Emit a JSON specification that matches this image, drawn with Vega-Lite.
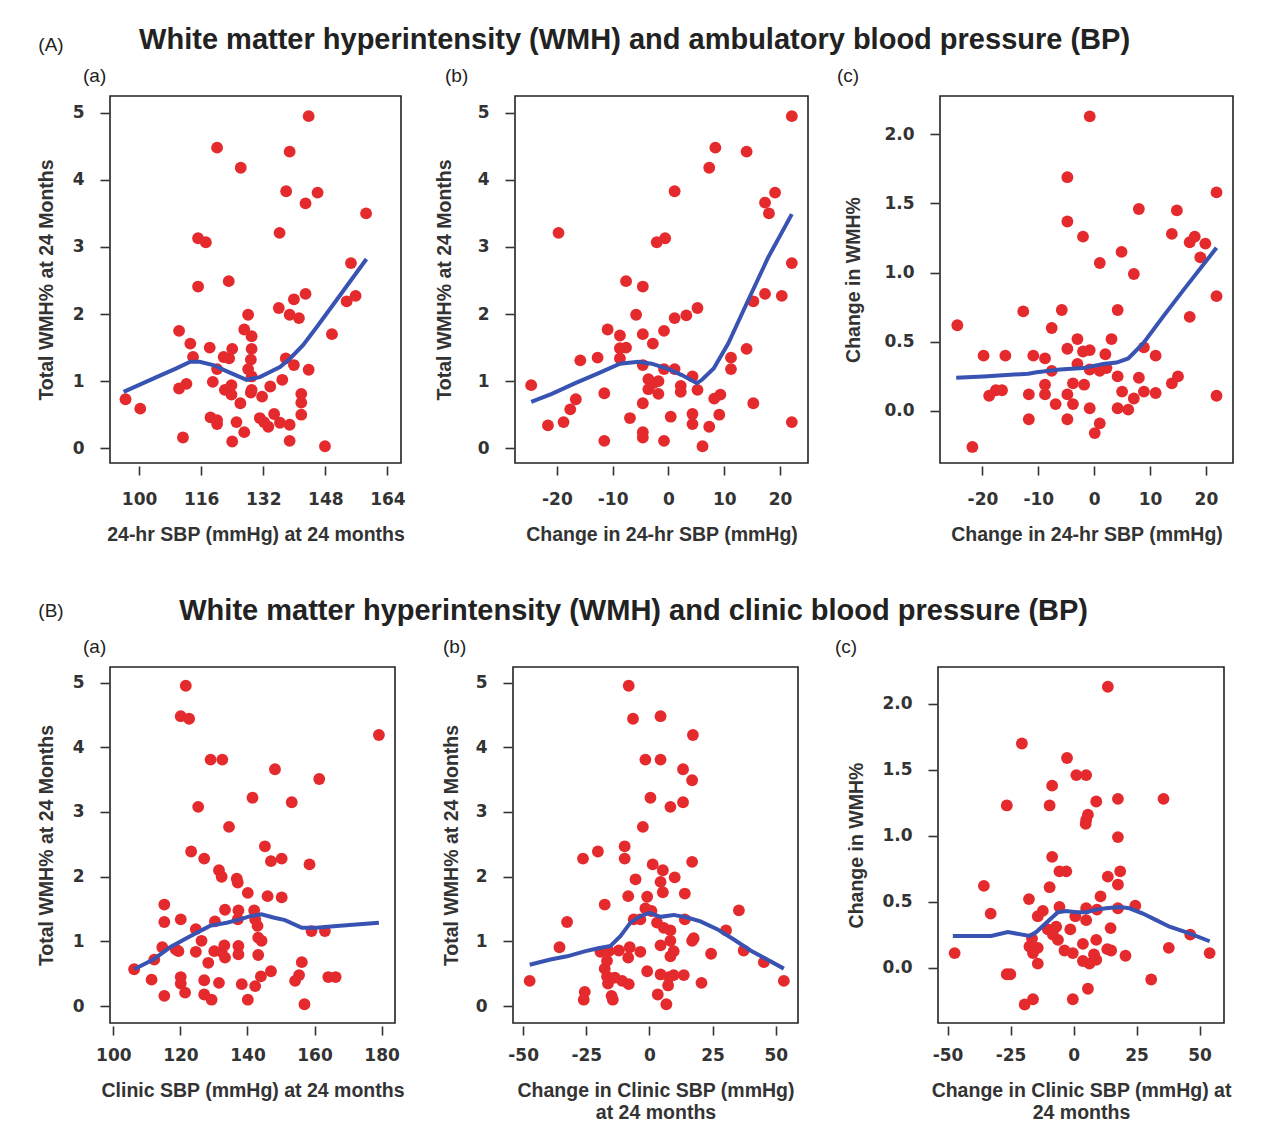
{
"$schema": "https://vega.github.io/schema/vega-lite/v6.json",
"padding": {"left": 35, "top": 26, "right": 5, "bottom": 5},
"background": "white",
"spacing": 52,
"config": {
 "view": {"stroke": "#222", "strokeWidth": 1.6},
 "axis": {"grid": false, "domain": false, "tickColor": "#333", "tickWidth": 1.6, "tickSize": 9, "labelFont": "DejaVu Sans", "labelFontWeight": "bold", "labelFontSize": 17, "labelColor": "#333", "titleFont": "Liberation Sans", "titleFontWeight": "bold", "titleFontSize": 19.5, "titleColor": "#333", "titleLineHeight": 22},
 "axisX": {"offset": 3, "labelPadding": 16, "titlePadding": 18, "labelAngle": 0, "labelFlush": false},
 "axisY": {"offset": 1, "labelPadding": 16, "titlePadding": 16, "labelFlush": false},
 "title": {"font": "Liberation Sans", "fontSize": 19, "fontWeight": "normal", "anchor": "start", "frame": "group", "baseline": "bottom", "offset": 10, "color": "#222"}
},
"datasets": {
 "aa": [{"x":143.7,"y":4.95},{"x":120.1,"y":4.48},{"x":138.8,"y":4.42},{"x":126.2,"y":4.18},{"x":137.9,"y":3.83},{"x":146.0,"y":3.81},{"x":142.9,"y":3.65},{"x":158.5,"y":3.50},{"x":136.2,"y":3.21},{"x":115.2,"y":3.13},{"x":117.2,"y":3.07},{"x":154.6,"y":2.76},{"x":123.1,"y":2.49},{"x":115.2,"y":2.41},{"x":155.8,"y":2.27},{"x":153.5,"y":2.19},{"x":142.9,"y":2.30},{"x":139.9,"y":2.22},{"x":136.0,"y":2.09},{"x":138.8,"y":1.99},{"x":141.2,"y":1.94},{"x":128.1,"y":1.99},{"x":127.1,"y":1.77},{"x":110.3,"y":1.75},{"x":129.0,"y":1.67},{"x":149.7,"y":1.70},{"x":113.2,"y":1.56},{"x":118.2,"y":1.50},{"x":124.0,"y":1.48},{"x":129.0,"y":1.48},{"x":113.9,"y":1.36},{"x":121.8,"y":1.36},{"x":123.2,"y":1.34},{"x":128.8,"y":1.32},{"x":137.8,"y":1.34},{"x":120.1,"y":1.18},{"x":128.1,"y":1.18},{"x":139.9,"y":1.24},{"x":143.7,"y":1.17},{"x":129.0,"y":1.07},{"x":119.0,"y":0.99},{"x":136.9,"y":1.02},{"x":112.2,"y":0.96},{"x":110.3,"y":0.89},{"x":123.8,"y":0.94},{"x":122.1,"y":0.87},{"x":129.0,"y":0.87},{"x":133.8,"y":0.92},{"x":128.8,"y":0.83},{"x":123.8,"y":0.80},{"x":131.7,"y":0.77},{"x":141.8,"y":0.81},{"x":141.8,"y":0.68},{"x":96.5,"y":0.73},{"x":100.3,"y":0.59},{"x":126.1,"y":0.67},{"x":118.4,"y":0.46},{"x":120.1,"y":0.42},{"x":120.1,"y":0.36},{"x":125.1,"y":0.39},{"x":131.1,"y":0.45},{"x":132.2,"y":0.39},{"x":133.3,"y":0.32},{"x":134.8,"y":0.51},{"x":136.3,"y":0.38},{"x":138.8,"y":0.35},{"x":141.8,"y":0.50},{"x":127.1,"y":0.24},{"x":111.3,"y":0.16},{"x":124.0,"y":0.10},{"x":138.8,"y":0.11},{"x":147.9,"y":0.03}],
 "aa_fit": [{"x":96.0,"y":0.84},{"x":104.5,"y":1.06},{"x":109.6,"y":1.19},{"x":113.2,"y":1.29},{"x":115.6,"y":1.29},{"x":119.1,"y":1.24},{"x":122.5,"y":1.15},{"x":127.7,"y":1.02},{"x":131.1,"y":1.06},{"x":136.3,"y":1.21},{"x":138.8,"y":1.33},{"x":142.3,"y":1.54},{"x":145.7,"y":1.80},{"x":150.9,"y":2.21},{"x":158.6,"y":2.82}],
 "ab": [{"x":22.1,"y":4.95},{"x":8.4,"y":4.48},{"x":14.0,"y":4.42},{"x":7.3,"y":4.18},{"x":1.1,"y":3.83},{"x":19.1,"y":3.81},{"x":17.3,"y":3.66},{"x":18.0,"y":3.50},{"x":-19.7,"y":3.21},{"x":-2.1,"y":3.07},{"x":-0.6,"y":3.13},{"x":22.1,"y":2.76},{"x":-7.6,"y":2.49},{"x":-4.6,"y":2.41},{"x":17.3,"y":2.30},{"x":20.3,"y":2.27},{"x":15.2,"y":2.19},{"x":5.2,"y":2.09},{"x":3.2,"y":1.98},{"x":1.1,"y":1.94},{"x":-5.8,"y":1.99},{"x":-10.9,"y":1.77},{"x":-0.8,"y":1.75},{"x":-8.7,"y":1.68},{"x":-4.6,"y":1.70},{"x":-2.8,"y":1.56},{"x":-8.7,"y":1.49},{"x":-7.6,"y":1.50},{"x":14.0,"y":1.48},{"x":-15.8,"y":1.31},{"x":-12.7,"y":1.35},{"x":-8.7,"y":1.34},{"x":-4.6,"y":1.24},{"x":11.2,"y":1.35},{"x":-0.8,"y":1.18},{"x":1.1,"y":1.18},{"x":11.2,"y":1.18},{"x":4.3,"y":1.07},{"x":-24.6,"y":0.94},{"x":-3.6,"y":1.03},{"x":-1.8,"y":1.00},{"x":-2.7,"y":0.97},{"x":-3.6,"y":0.88},{"x":-1.8,"y":0.81},{"x":2.2,"y":0.93},{"x":2.2,"y":0.84},{"x":5.2,"y":0.87},{"x":-11.5,"y":0.82},{"x":-16.6,"y":0.73},{"x":-17.6,"y":0.58},{"x":8.2,"y":0.74},{"x":9.3,"y":0.80},{"x":-4.6,"y":0.67},{"x":15.2,"y":0.67},{"x":-21.6,"y":0.34},{"x":-18.8,"y":0.39},{"x":-6.9,"y":0.45},{"x":0.4,"y":0.47},{"x":4.3,"y":0.51},{"x":4.3,"y":0.36},{"x":9.1,"y":0.50},{"x":7.3,"y":0.32},{"x":22.1,"y":0.39},{"x":-4.6,"y":0.24},{"x":-4.6,"y":0.16},{"x":-11.5,"y":0.11},{"x":-0.8,"y":0.11},{"x":6.1,"y":0.03}],
 "ab_fit": [{"x":-24.6,"y":0.69},{"x":-20.9,"y":0.81},{"x":-16.7,"y":0.97},{"x":-12.5,"y":1.12},{"x":-8.7,"y":1.26},{"x":-5.4,"y":1.29},{"x":-3.0,"y":1.26},{"x":0,"y":1.18},{"x":2.4,"y":1.09},{"x":5.1,"y":0.97},{"x":6.0,"y":1.02},{"x":8.1,"y":1.19},{"x":10.7,"y":1.56},{"x":14.3,"y":2.21},{"x":17.9,"y":2.85},{"x":22.1,"y":3.49}],
 "ac": [{"x":-0.8,"y":2.13},{"x":-4.8,"y":1.69},{"x":21.9,"y":1.58},{"x":8.0,"y":1.46},{"x":14.8,"y":1.45},{"x":-4.8,"y":1.37},{"x":-2.0,"y":1.26},{"x":13.9,"y":1.28},{"x":18.0,"y":1.26},{"x":17.1,"y":1.22},{"x":19.9,"y":1.21},{"x":4.9,"y":1.15},{"x":1.0,"y":1.07},{"x":19.0,"y":1.11},{"x":7.1,"y":0.99},{"x":21.9,"y":0.83},{"x":-24.5,"y":0.62},{"x":-12.7,"y":0.72},{"x":-5.8,"y":0.73},{"x":4.2,"y":0.73},{"x":17.1,"y":0.68},{"x":-7.6,"y":0.60},{"x":-3.0,"y":0.52},{"x":3.1,"y":0.52},{"x":-4.8,"y":0.45},{"x":-2.0,"y":0.43},{"x":-0.8,"y":0.44},{"x":2.0,"y":0.41},{"x":8.9,"y":0.46},{"x":-19.8,"y":0.40},{"x":-15.9,"y":0.40},{"x":-10.9,"y":0.40},{"x":-8.8,"y":0.38},{"x":11.0,"y":0.40},{"x":-3.0,"y":0.34},{"x":-7.6,"y":0.29},{"x":-0.8,"y":0.30},{"x":1.0,"y":0.29},{"x":2.2,"y":0.31},{"x":4.2,"y":0.25},{"x":8.0,"y":0.24},{"x":13.9,"y":0.20},{"x":15.0,"y":0.25},{"x":-8.8,"y":0.19},{"x":-3.8,"y":0.20},{"x":-1.8,"y":0.19},{"x":-18.8,"y":0.11},{"x":-17.6,"y":0.15},{"x":-16.5,"y":0.15},{"x":-11.7,"y":0.12},{"x":-8.8,"y":0.12},{"x":-4.8,"y":0.12},{"x":5.0,"y":0.14},{"x":8.9,"y":0.14},{"x":7.1,"y":0.09},{"x":11.0,"y":0.13},{"x":21.9,"y":0.11},{"x":-6.9,"y":0.05},{"x":-3.8,"y":0.05},{"x":-0.8,"y":0.02},{"x":4.2,"y":0.02},{"x":6.1,"y":0.01},{"x":-11.7,"y":-0.06},{"x":-4.8,"y":-0.06},{"x":1.0,"y":-0.09},{"x":0.1,"y":-0.16},{"x":-21.8,"y":-0.26}],
 "ac_fit": [{"x":-24.7,"y":0.24},{"x":-19.8,"y":0.25},{"x":-15.7,"y":0.26},{"x":-11.8,"y":0.27},{"x":-10.3,"y":0.28},{"x":-6.1,"y":0.30},{"x":-2.0,"y":0.31},{"x":1.6,"y":0.34},{"x":4.0,"y":0.35},{"x":6.1,"y":0.38},{"x":8.8,"y":0.49},{"x":12.3,"y":0.68},{"x":15.9,"y":0.87},{"x":21.9,"y":1.18}],
 "ba": [{"x":121.6,"y":4.95},{"x":120.1,"y":4.48},{"x":122.6,"y":4.44},{"x":179.2,"y":4.19},{"x":129.0,"y":3.81},{"x":132.5,"y":3.81},{"x":148.2,"y":3.66},{"x":161.4,"y":3.51},{"x":141.5,"y":3.22},{"x":153.2,"y":3.15},{"x":125.3,"y":3.08},{"x":134.5,"y":2.77},{"x":145.2,"y":2.47},{"x":123.2,"y":2.39},{"x":127.1,"y":2.28},{"x":147.0,"y":2.24},{"x":150.2,"y":2.28},{"x":158.5,"y":2.19},{"x":131.5,"y":2.10},{"x":132.3,"y":2.00},{"x":136.8,"y":1.97},{"x":137.1,"y":1.91},{"x":140.1,"y":1.75},{"x":146.0,"y":1.70},{"x":150.2,"y":1.68},{"x":115.2,"y":1.57},{"x":133.3,"y":1.49},{"x":137.3,"y":1.48},{"x":142.0,"y":1.48},{"x":115.2,"y":1.30},{"x":120.1,"y":1.34},{"x":130.3,"y":1.31},{"x":137.1,"y":1.34},{"x":142.3,"y":1.34},{"x":143.0,"y":1.24},{"x":124.6,"y":1.19},{"x":159.1,"y":1.16},{"x":163.1,"y":1.16},{"x":143.2,"y":1.06},{"x":144.2,"y":1.01},{"x":126.3,"y":1.01},{"x":114.6,"y":0.91},{"x":118.6,"y":0.88},{"x":119.4,"y":0.85},{"x":124.6,"y":0.84},{"x":130.1,"y":0.85},{"x":132.3,"y":0.84},{"x":133.1,"y":0.94},{"x":137.3,"y":0.93},{"x":137.3,"y":0.80},{"x":133.3,"y":0.75},{"x":143.2,"y":0.79},{"x":112.2,"y":0.72},{"x":128.3,"y":0.67},{"x":156.2,"y":0.68},{"x":106.2,"y":0.57},{"x":144.0,"y":0.46},{"x":147.0,"y":0.54},{"x":155.4,"y":0.48},{"x":154.2,"y":0.39},{"x":164.1,"y":0.45},{"x":166.3,"y":0.45},{"x":111.4,"y":0.41},{"x":120.1,"y":0.45},{"x":120.1,"y":0.35},{"x":127.1,"y":0.40},{"x":131.5,"y":0.36},{"x":138.3,"y":0.34},{"x":142.3,"y":0.31},{"x":115.2,"y":0.16},{"x":121.4,"y":0.21},{"x":127.1,"y":0.18},{"x":129.3,"y":0.10},{"x":140.1,"y":0.10},{"x":157.0,"y":0.03}],
 "ba_fit": [{"x":106.2,"y":0.57},{"x":111.9,"y":0.72},{"x":116.9,"y":0.91},{"x":122.9,"y":1.08},{"x":128.8,"y":1.24},{"x":133.8,"y":1.29},{"x":137.8,"y":1.34},{"x":140.8,"y":1.39},{"x":144.2,"y":1.42},{"x":147.7,"y":1.37},{"x":151.2,"y":1.33},{"x":156.2,"y":1.21},{"x":160.6,"y":1.21},{"x":166.6,"y":1.24},{"x":179.2,"y":1.29}],
 "bb": [{"x":-8.2,"y":4.95},{"x":-6.5,"y":4.44},{"x":4.4,"y":4.48},{"x":17.2,"y":4.19},{"x":-1.6,"y":3.81},{"x":4.4,"y":3.81},{"x":13.3,"y":3.66},{"x":16.9,"y":3.49},{"x":0.4,"y":3.22},{"x":8.3,"y":3.08},{"x":13.3,"y":3.15},{"x":-2.6,"y":2.77},{"x":-9.8,"y":2.47},{"x":-20.4,"y":2.39},{"x":-26.3,"y":2.28},{"x":-9.8,"y":2.28},{"x":16.9,"y":2.23},{"x":1.3,"y":2.19},{"x":5.3,"y":2.10},{"x":10.0,"y":1.99},{"x":-5.5,"y":1.96},{"x":4.4,"y":1.92},{"x":5.3,"y":1.76},{"x":-8.4,"y":1.70},{"x":14.0,"y":1.74},{"x":-0.9,"y":1.69},{"x":-17.7,"y":1.57},{"x":-1.6,"y":1.51},{"x":0.8,"y":1.47},{"x":35.4,"y":1.48},{"x":-32.6,"y":1.30},{"x":-6.2,"y":1.34},{"x":-3.6,"y":1.34},{"x":14.0,"y":1.34},{"x":3.0,"y":1.29},{"x":5.7,"y":1.21},{"x":8.3,"y":1.17},{"x":30.3,"y":1.17},{"x":8.3,"y":1.01},{"x":17.5,"y":1.05},{"x":16.9,"y":1.01},{"x":4.4,"y":0.94},{"x":-35.6,"y":0.91},{"x":-7.8,"y":0.91},{"x":-19.4,"y":0.84},{"x":-16.1,"y":0.85},{"x":-12.1,"y":0.86},{"x":-3.6,"y":0.84},{"x":9.6,"y":0.85},{"x":37.3,"y":0.86},{"x":24.4,"y":0.81},{"x":-8.4,"y":0.75},{"x":8.3,"y":0.77},{"x":-16.8,"y":0.70},{"x":45.3,"y":0.68},{"x":-17.7,"y":0.58},{"x":-16.8,"y":0.46},{"x":-0.9,"y":0.54},{"x":4.4,"y":0.49},{"x":7.7,"y":0.45},{"x":9.6,"y":0.48},{"x":13.6,"y":0.48},{"x":-13.7,"y":0.44},{"x":-10.8,"y":0.39},{"x":-8.2,"y":0.34},{"x":-47.4,"y":0.39},{"x":53.2,"y":0.39},{"x":20.6,"y":0.36},{"x":-16.4,"y":0.35},{"x":7.4,"y":0.32},{"x":-25.6,"y":0.22},{"x":-26.0,"y":0.10},{"x":-15.0,"y":0.16},{"x":-14.5,"y":0.10},{"x":3.3,"y":0.18},{"x":6.7,"y":0.03}],
 "bb_fit": [{"x":-47.4,"y":0.64},{"x":-39.2,"y":0.72},{"x":-32.6,"y":0.77},{"x":-25.3,"y":0.85},{"x":-20.7,"y":0.89},{"x":-15.4,"y":0.93},{"x":-11.5,"y":1.08},{"x":-7.5,"y":1.29},{"x":-3.6,"y":1.39},{"x":0,"y":1.44},{"x":4.4,"y":1.38},{"x":9.6,"y":1.41},{"x":14.9,"y":1.37},{"x":20.2,"y":1.31},{"x":26.8,"y":1.19},{"x":33.4,"y":1.03},{"x":40.0,"y":0.86},{"x":46.6,"y":0.72},{"x":53.2,"y":0.58}],
 "bc": [{"x":13.6,"y":2.13},{"x":-20.5,"y":1.70},{"x":-2.6,"y":1.59},{"x":1.1,"y":1.46},{"x":5.0,"y":1.46},{"x":-8.5,"y":1.38},{"x":-26.5,"y":1.23},{"x":-9.5,"y":1.23},{"x":9.0,"y":1.26},{"x":17.6,"y":1.28},{"x":35.7,"y":1.28},{"x":5.7,"y":1.16},{"x":5.0,"y":1.12},{"x":4.8,"y":1.09},{"x":17.6,"y":0.99},{"x":-8.5,"y":0.84},{"x":-5.6,"y":0.73},{"x":-2.9,"y":0.73},{"x":13.6,"y":0.69},{"x":18.5,"y":0.73},{"x":17.6,"y":0.63},{"x":-35.6,"y":0.62},{"x":-9.5,"y":0.61},{"x":10.7,"y":0.54},{"x":-17.7,"y":0.52},{"x":24.5,"y":0.47},{"x":17.6,"y":0.45},{"x":-5.6,"y":0.46},{"x":9.3,"y":0.44},{"x":5.0,"y":0.45},{"x":-12.2,"y":0.43},{"x":-14.2,"y":0.39},{"x":0.7,"y":0.39},{"x":5.0,"y":0.36},{"x":-32.9,"y":0.41},{"x":-6.9,"y":0.31},{"x":-10.2,"y":0.29},{"x":-1.3,"y":0.29},{"x":14.7,"y":0.30},{"x":-8.2,"y":0.25},{"x":46.3,"y":0.25},{"x":-6.2,"y":0.21},{"x":-16.5,"y":0.22},{"x":9.0,"y":0.21},{"x":3.7,"y":0.18},{"x":-17.5,"y":0.16},{"x":-14.2,"y":0.15},{"x":13.4,"y":0.14},{"x":14.9,"y":0.13},{"x":37.8,"y":0.15},{"x":-3.6,"y":0.13},{"x":-0.3,"y":0.11},{"x":-16.1,"y":0.11},{"x":8.1,"y":0.10},{"x":-47.2,"y":0.11},{"x":54.0,"y":0.11},{"x":20.6,"y":0.09},{"x":3.7,"y":0.05},{"x":6.3,"y":0.03},{"x":9.0,"y":0.06},{"x":-14.2,"y":0.03},{"x":-26.5,"y":-0.05},{"x":-25.1,"y":-0.05},{"x":30.8,"y":-0.09},{"x":5.7,"y":-0.16},{"x":-0.3,"y":-0.24},{"x":-16.1,"y":-0.24},{"x":-19.4,"y":-0.28}],
 "bc_fit": [{"x":-47.9,"y":0.24},{"x":-39.9,"y":0.24},{"x":-32.7,"y":0.24},{"x":-26.1,"y":0.27},{"x":-17.5,"y":0.24},{"x":-14.8,"y":0.27},{"x":-10.8,"y":0.34},{"x":-6.2,"y":0.42},{"x":-2.9,"y":0.43},{"x":1.1,"y":0.42},{"x":5.0,"y":0.42},{"x":9.0,"y":0.44},{"x":12.9,"y":0.45},{"x":18.3,"y":0.46},{"x":22.2,"y":0.45},{"x":27.5,"y":0.41},{"x":32.8,"y":0.36},{"x":38.1,"y":0.31},{"x":46.0,"y":0.26},{"x":54.0,"y":0.20}]
},
"vconcat": [
 {
  "title": {"text": "(A)", "anchor": "start", "frame": "bounds", "fontSize": 19, "dx": 3, "dy": 29, "offset": 0},
  "vconcat": [{
   "title": {"text": "White matter hyperintensity (WMH) and ambulatory blood pressure (BP)", "anchor": "middle", "frame": "bounds", "fontSize": 29, "fontWeight": "bold", "offset": 11},
   "spacing": 27,
   "hconcat": [
    {"width": 291, "height": 367, "title": {"text": "(a)", "dx": -27},
     "layer": [
      {"data": {"name": "aa"}, "mark": {"type": "circle", "size": 140, "color": "#e52a2e", "opacity": 1},
       "encoding": {"x": {"field": "x", "type": "quantitative", "scale": {"domain": [92.5, 167.5], "nice": false, "zero": false}, "axis": {"values": [100, 116, 132, 148, 164], "format": "d", "title": "24-hr SBP (mmHg) at 24 months"}},
                    "y": {"field": "y", "type": "quantitative", "scale": {"domain": [-0.22, 5.25], "nice": false, "zero": false}, "axis": {"values": [0, 1, 2, 3, 4, 5], "format": "d", "title": "Total WMH% at 24 Months"}}}},
      {"data": {"name": "aa_fit"}, "mark": {"type": "line", "color": "#3953b3", "strokeWidth": 4},
       "encoding": {"x": {"field": "x", "type": "quantitative", "scale": {"domain": [92.5, 167.5], "nice": false, "zero": false}}, "y": {"field": "y", "type": "quantitative", "scale": {"domain": [-0.22, 5.25], "nice": false, "zero": false}}}}
     ]},
    {"width": 293, "height": 367, "title": {"text": "(b)", "dx": -70},
     "layer": [
      {"data": {"name": "ab"}, "mark": {"type": "circle", "size": 140, "color": "#e52a2e", "opacity": 1},
       "encoding": {"x": {"field": "x", "type": "quantitative", "scale": {"domain": [-27.5, 25], "nice": false, "zero": false}, "axis": {"values": [-20, -10, 0, 10, 20], "format": "d", "labelExpr": "replace(datum.label, '\u2212', '-')", "title": "Change in 24-hr SBP (mmHg)"}},
                    "y": {"field": "y", "type": "quantitative", "scale": {"domain": [-0.22, 5.25], "nice": false, "zero": false}, "axis": {"values": [0, 1, 2, 3, 4, 5], "format": "d", "titlePadding": 23, "title": "Total WMH% at 24 Months"}}}},
      {"data": {"name": "ab_fit"}, "mark": {"type": "line", "color": "#3953b3", "strokeWidth": 4},
       "encoding": {"x": {"field": "x", "type": "quantitative", "scale": {"domain": [-27.5, 25], "nice": false, "zero": false}}, "y": {"field": "y", "type": "quantitative", "scale": {"domain": [-0.22, 5.25], "nice": false, "zero": false}}}}
     ]},
    {"width": 293, "height": 367, "title": {"text": "(c)", "dx": -103},
     "layer": [
      {"data": {"name": "ac"}, "mark": {"type": "circle", "size": 140, "color": "#e52a2e", "opacity": 1},
       "encoding": {"x": {"field": "x", "type": "quantitative", "scale": {"domain": [-27.6, 24.85], "nice": false, "zero": false}, "axis": {"values": [-20, -10, 0, 10, 20], "format": "d", "labelExpr": "replace(datum.label, '\u2212', '-')", "title": "Change in 24-hr SBP (mmHg)"}},
                    "y": {"field": "y", "type": "quantitative", "scale": {"domain": [-0.376, 2.277], "nice": false, "zero": false}, "axis": {"values": [0, 0.5, 1, 1.5, 2], "format": ".1f", "titlePadding": 20, "title": "Change in WMH%"}}}},
      {"data": {"name": "ac_fit"}, "mark": {"type": "line", "color": "#3953b3", "strokeWidth": 4},
       "encoding": {"x": {"field": "x", "type": "quantitative", "scale": {"domain": [-27.6, 24.85], "nice": false, "zero": false}}, "y": {"field": "y", "type": "quantitative", "scale": {"domain": [-0.376, 2.277], "nice": false, "zero": false}}}}
     ]}
   ]
  }]
 },
 {
  "title": {"text": "(B)", "anchor": "start", "frame": "bounds", "fontSize": 19, "dx": 3, "dy": 24, "offset": 0},
  "vconcat": [{
   "title": {"text": "White matter hyperintensity (WMH) and clinic blood pressure (BP)", "anchor": "middle", "frame": "bounds", "fontSize": 29, "fontWeight": "bold", "offset": 11},
   "spacing": 35,
   "hconcat": [
    {"width": 285, "height": 356, "title": {"text": "(a)", "dx": -27},
     "layer": [
      {"data": {"name": "ba"}, "mark": {"type": "circle", "size": 140, "color": "#e52a2e", "opacity": 1},
       "encoding": {"x": {"field": "x", "type": "quantitative", "scale": {"domain": [99, 184], "nice": false, "zero": false}, "axis": {"values": [100, 120, 140, 160, 180], "format": "d", "labelPadding": 12, "title": "Clinic SBP (mmHg) at 24 months"}},
                    "y": {"field": "y", "type": "quantitative", "scale": {"domain": [-0.26, 5.24], "nice": false, "zero": false}, "axis": {"values": [0, 1, 2, 3, 4, 5], "format": "d", "title": "Total WMH% at 24 Months"}}}},
      {"data": {"name": "ba_fit"}, "mark": {"type": "line", "color": "#3953b3", "strokeWidth": 4},
       "encoding": {"x": {"field": "x", "type": "quantitative", "scale": {"domain": [99, 184], "nice": false, "zero": false}}, "y": {"field": "y", "type": "quantitative", "scale": {"domain": [-0.26, 5.24], "nice": false, "zero": false}}}}
     ]},
    {"width": 285, "height": 356, "title": {"text": "(b)", "dx": -70},
     "layer": [
      {"data": {"name": "bb"}, "mark": {"type": "circle", "size": 140, "color": "#e52a2e", "opacity": 1},
       "encoding": {"x": {"field": "x", "type": "quantitative", "scale": {"domain": [-54, 58.8], "nice": false, "zero": false}, "axis": {"values": [-50, -25, 0, 25, 50], "format": "d", "labelPadding": 12, "labelExpr": "replace(datum.label, '\u2212', '-')", "title": ["Change in Clinic SBP (mmHg)", "at 24 months"]}},
                    "y": {"field": "y", "type": "quantitative", "scale": {"domain": [-0.26, 5.24], "nice": false, "zero": false}, "axis": {"values": [0, 1, 2, 3, 4, 5], "format": "d", "titlePadding": 14, "title": "Total WMH% at 24 Months"}}}},
      {"data": {"name": "bb_fit"}, "mark": {"type": "line", "color": "#3953b3", "strokeWidth": 4},
       "encoding": {"x": {"field": "x", "type": "quantitative", "scale": {"domain": [-54, 58.8], "nice": false, "zero": false}}, "y": {"field": "y", "type": "quantitative", "scale": {"domain": [-0.26, 5.24], "nice": false, "zero": false}}}}
     ]},
    {"width": 286, "height": 356, "title": {"text": "(c)", "dx": -103},
     "layer": [
      {"data": {"name": "bc"}, "mark": {"type": "circle", "size": 140, "color": "#e52a2e", "opacity": 1},
       "encoding": {"x": {"field": "x", "type": "quantitative", "scale": {"domain": [-53.8, 59.7], "nice": false, "zero": false}, "axis": {"values": [-50, -25, 0, 25, 50], "format": "d", "labelPadding": 12, "labelExpr": "replace(datum.label, '\u2212', '-')", "title": ["Change in Clinic SBP (mmHg) at", "24 months"]}},
                    "y": {"field": "y", "type": "quantitative", "scale": {"domain": [-0.42, 2.28], "nice": false, "zero": false}, "axis": {"values": [0, 0.5, 1, 1.5, 2], "format": ".1f", "titlePadding": 15, "title": "Change in WMH%"}}}},
      {"data": {"name": "bc_fit"}, "mark": {"type": "line", "color": "#3953b3", "strokeWidth": 4},
       "encoding": {"x": {"field": "x", "type": "quantitative", "scale": {"domain": [-53.8, 59.7], "nice": false, "zero": false}}, "y": {"field": "y", "type": "quantitative", "scale": {"domain": [-0.42, 2.28], "nice": false, "zero": false}}}}
     ]}
   ]
  }]
 }
]
}
